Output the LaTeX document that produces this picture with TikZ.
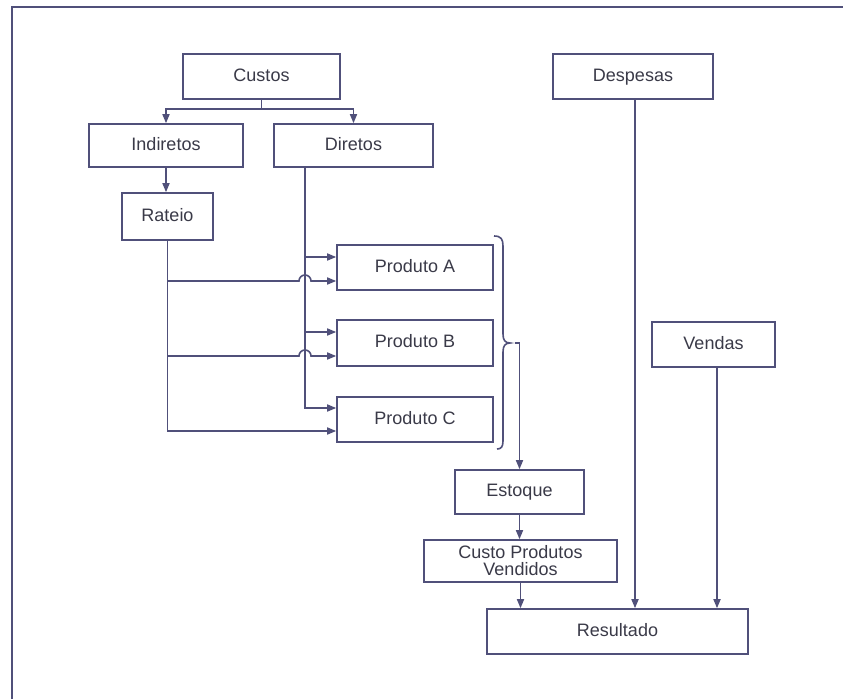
\documentclass[tikz,border=0pt]{standalone}
\usepackage{fontspec}
\setmainfont{Liberation Sans}
\usetikzlibrary{arrows.meta}
\definecolor{ink}{HTML}{50507A}
\definecolor{txt}{HTML}{3A3A48}
\begin{document}
\begin{tikzpicture}[x=1pt,y=-1pt,
  base/.style={draw=ink,line width=1.6pt,rectangle,inner sep=0pt,text=txt,font=\fontsize{18}{20}\selectfont,align=center},
  box/.style={base,text height=13pt,text depth=4pt},
  ln/.style={draw=ink,line width=1.6pt},
  arr/.style={ln,-{Triangle[length=9pt,width=7pt]}}]
\useasboundingbox (0,0) rectangle (843,699);
\fill[white] (0,0) rectangle (843,699);
\draw[ln] (12,699) -- (12,7) -- (843,7);
% nodes
\node[box,minimum width=157pt,minimum height=45pt] (custos) at (261.5,76.5) {Custos};
\node[box,minimum width=160pt,minimum height=45pt] (despesas) at (633,76.5) {Despesas};
\node[box,minimum width=154pt,minimum height=43pt] (indiretos) at (166,145.5) {Indiretos};
\node[box,minimum width=159pt,minimum height=43pt] (diretos) at (353.5,145.5) {Diretos};
\node[box,minimum width=91pt,minimum height=47pt] (rateio) at (167.5,216.5) {Rateio};
\node[box,minimum width=156pt,minimum height=45pt] (pa) at (415,267.5) {Produto A};
\node[box,minimum width=156pt,minimum height=46pt] (pb) at (415,343) {Produto B};
\node[box,minimum width=156pt,minimum height=45pt] (pc) at (415,419.5) {Produto C};
\node[box,minimum width=123pt,minimum height=45pt] (vendas) at (713.5,344.5) {Vendas};
\node[box,minimum width=129pt,minimum height=44pt] (estoque) at (519.5,492) {Estoque};
\node[base,minimum width=193pt,minimum height=42pt,font=\fontsize{18}{17}\selectfont] (cpv) at (520.5,561) {Custo Produtos\\Vendidos};
\node[box,minimum width=261pt,minimum height=45pt] (resultado) at (617.5,631.5) {Resultado};
% Custos split
\draw[ln] (custos.south) -- ++(0,9) coordinate (split);
\draw[arr] (split) -| (indiretos.north);
\draw[arr] (split) -| (diretos.north);
% Indiretos -> Rateio
\draw[arr] (indiretos.south) -- (indiretos.south |- rateio.north);
% Diretos feeds
\coordinate (dtop) at ([xshift=-48.5pt]diretos.south);
\draw[arr] (dtop) |- ([yshift=11.5pt]pc.west);
\draw[arr] ([yshift=10.5pt]pa.west -| dtop) -- ([yshift=10.5pt]pa.west);
\draw[arr] ([yshift=11pt]pb.west -| dtop) -- ([yshift=11pt]pb.west);
% Rateio feeds
\draw[arr] (rateio.south) |- ([yshift=-11.5pt]pc.west);
\draw[arr] ([yshift=-13.5pt]pa.west -| rateio.south) -- ([xshift=-6pt,yshift=-13.5pt]pa.west -| dtop) arc (180:0:6pt) -- ([yshift=-13.5pt]pa.west);
\draw[arr] ([yshift=-13pt]pb.west -| rateio.south) -- ([xshift=-6pt,yshift=-13pt]pb.west -| dtop) arc (180:0:6pt) -- ([yshift=-13pt]pb.west);
% brace
\draw[ln] (494,236) .. controls (501,236) and (503,239) .. (503,246) -- (503,334) .. controls (503,340) and (505,343) .. (510,343) coordinate (btip) .. controls (505,343) and (503,346) .. (503,352) -- (503,441) .. controls (503,447) and (501,449) .. (497,449);
\draw[arr] ([xshift=5pt]btip) -- (estoque.north |- btip) -- (estoque.north);
% lower chain
\draw[arr] (estoque.south) -- (estoque.south |- cpv.north);
\draw[arr] (cpv.south) -- (cpv.south |- resultado.north);
\draw[arr] ([xshift=2pt]despesas.south) -- ([xshift=2pt]despesas.south |- resultado.north);
\draw[arr] ([xshift=3.5pt]vendas.south) -- ([xshift=3.5pt]vendas.south |- resultado.north);
\end{tikzpicture}
\end{document}
